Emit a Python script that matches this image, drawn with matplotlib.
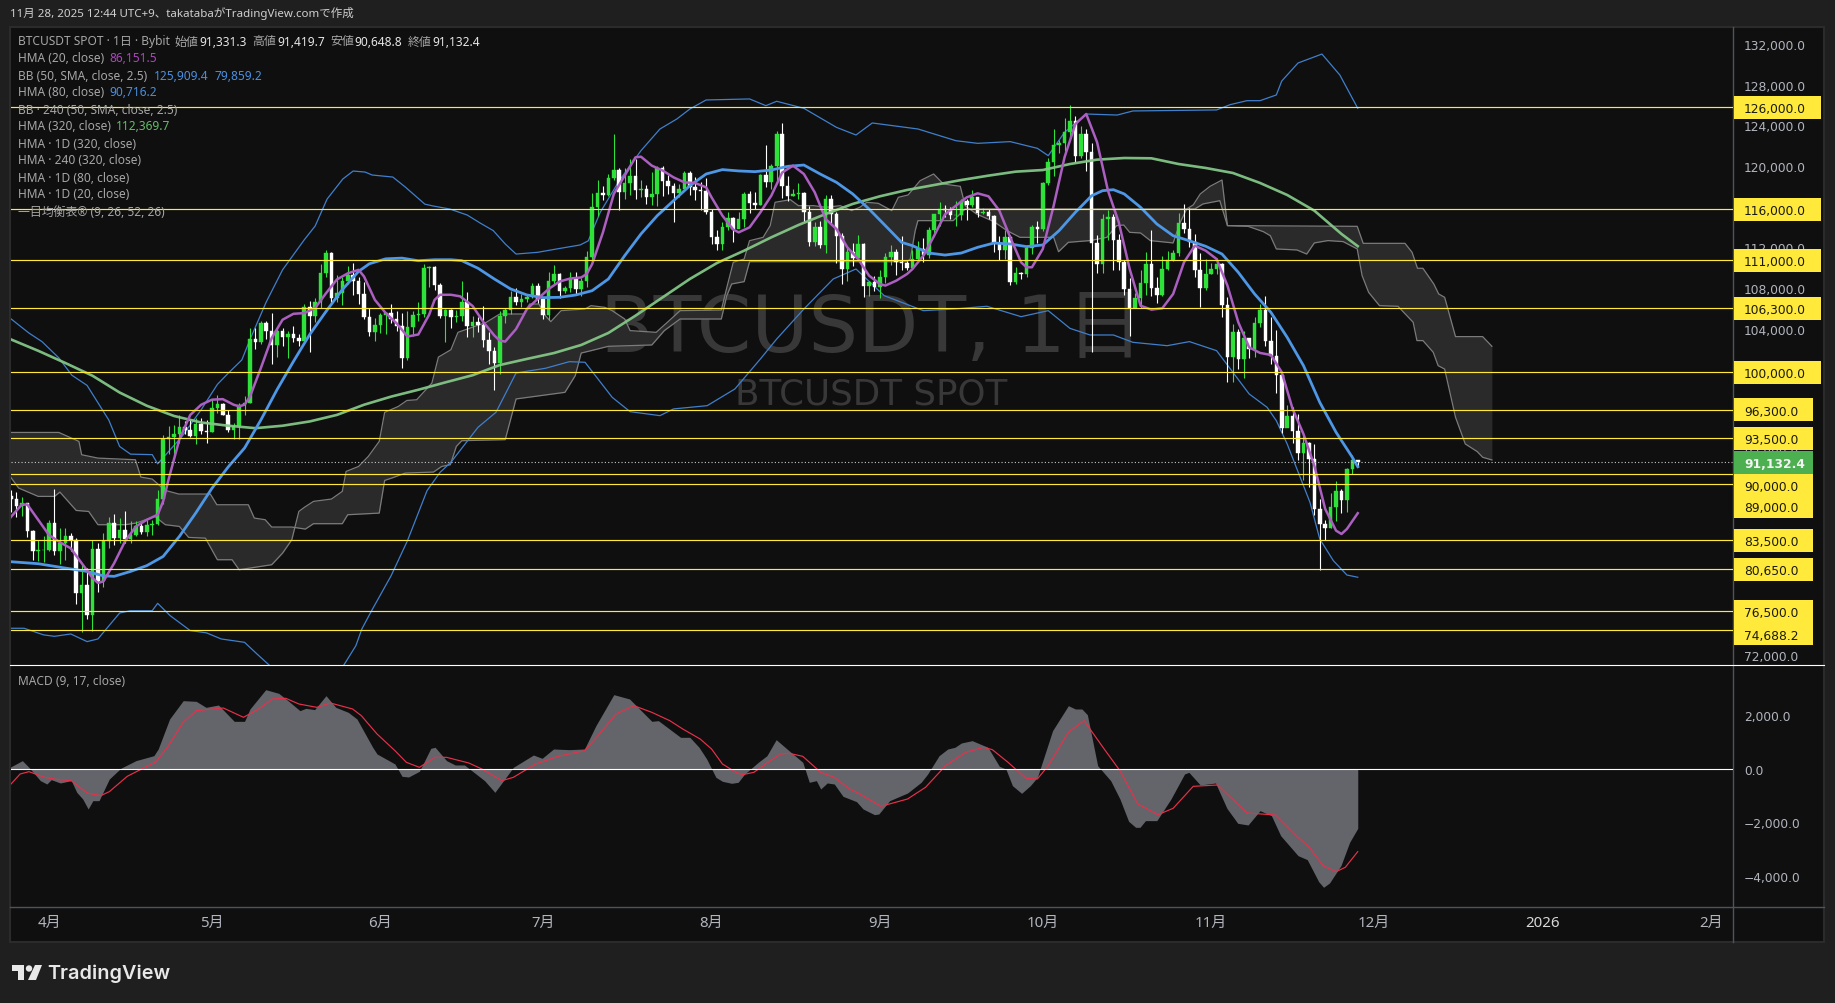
import numpy as np
import matplotlib
matplotlib.use("Agg")
import matplotlib.pyplot as plt
from matplotlib.patches import Circle, Polygon, Rectangle
from matplotlib.ticker import FixedLocator, FuncFormatter
from matplotlib.transforms import ScaledTranslation

plt.rcParams["font.family"] = ["Noto Sans", "Noto Sans CJK JP", "DejaVu Sans"]

# daily candles, 25 Mar - 28 Nov 2025
first_open = 87800
closes = [
    87500, 86900, 87200, 84400, 82400, 82500, 82550,
    85150, 82400, 83200, 83900, 83500, 78300, 79100, 76200, 82600, 79500, 83400, 85200, 83700, 84500, 83600, 84000, 84900, 84300, 85000, 85100, 87500, 93400, 93600, 93900, 94600, 94300, 93700, 94900, 94200, 94150,
    96500, 96900, 95800, 94300, 94700, 96800, 97000, 103300, 102950, 104800, 104000, 102700, 104000, 103500, 103700, 103400, 103100, 106400, 105500, 106900, 109700, 111700, 107300, 107800, 109000, 109500, 109000, 107700, 105400, 103900, 104600,
    105600, 105800, 105200, 104500, 101400, 104400, 105600, 105750, 110250, 110300, 108600, 105500, 106100, 105400, 105500, 106860, 104570, 104900, 104600, 103200, 102100, 100900, 105500, 106100, 107400, 106900, 107200, 107400, 108500, 107200,
    105600, 109000, 109600, 108000, 108250, 109200, 108200, 108950, 111300, 116200, 117600, 117400, 119100, 119900, 117700, 118600, 119300, 117900, 118000, 117200, 117500, 120000, 118800, 118300, 117600, 118000, 119600, 118200, 117900, 117800, 115700,
    113300, 112600, 114300, 115100, 114100, 115000, 117500, 116600, 116450, 119400, 118700, 120200, 123400, 118300, 117300, 117500, 117600, 115700, 112800, 114300, 112500, 117000, 115500, 113400, 110100, 111800, 111200, 112600, 108500, 108900, 108350,
    109300, 111300, 111800, 110800, 110700, 110250, 111100, 112100, 111500, 114000, 115500, 116000, 115950, 115400, 115400, 116800, 116400, 117200, 115600, 115700, 115300, 112700, 112000, 113300, 108900, 109700, 109650, 112200, 114300, 114100,
    118600, 120600, 122300, 122550, 123550, 124700, 121260, 123400, 121600, 112700, 110600, 115000, 115200, 113000, 110800, 108200, 106300, 107300, 108800, 110600, 108300, 107600, 110100, 111000, 111700, 114650, 114100, 112800, 110000, 108300, 109600,
    110100, 110600, 106600, 101500, 103900, 101300, 103400, 102300, 104800, 106100, 103100, 101600, 99700, 94500, 95650, 94250, 92100, 93000, 91500, 86600, 85100, 84700, 86800, 88300, 87400, 90500, 91331.3, 91132.4,
]
highs = [
    88450, 88200, 87700, 87200, 84500, 83500, 83900,
    85500, 88500, 84700, 84700, 84200, 83700, 81200, 80800, 83500, 83200, 84200, 85800, 86100, 85700, 86400, 85400, 85400, 85200, 85500, 85500, 88400, 93800, 94700, 94800, 95800, 95200, 95300, 95500, 95500, 95300,
    97400, 97800, 97000, 96300, 95000, 97000, 97700, 104300, 104300, 105000, 105000, 105800, 104300, 104300, 104000, 104500, 103700, 106700, 107000, 107300, 110600, 112000, 111800, 109500, 109300, 110400, 110700, 109300, 108900, 106300, 105300,
    105800, 105900, 106700, 106000, 105800, 106000, 106000, 106900, 110600, 110400, 110400, 108800, 106200, 106200, 106100, 109000, 107900, 105500, 105400, 106500, 103900, 102500, 106000, 106300, 108000, 108300, 107700, 107600, 108800, 108800,
    107300, 109800, 110500, 109700, 108500, 109800, 109800, 109200, 111900, 117600, 118900, 118300, 119500, 123400, 120000, 120000, 120900, 120900, 118900, 118400, 119700, 120200, 120200, 119400, 118600, 118500, 119800, 119800, 119200, 118700, 119100,
    116000, 114000, 114700, 115700, 115200, 115700, 117700, 117800, 117700, 119500, 122300, 120400, 123700, 124500, 119300, 118000, 118600, 117700, 116300, 114700, 114800, 117400, 117400, 115700, 113700, 112300, 112700, 113500, 112700, 109000, 109400,
    110000, 111700, 112500, 112100, 113400, 110900, 112000, 112900, 113200, 114300, 115500, 116700, 116400, 116200, 116800, 117000, 117000, 117900, 117200, 116100, 116000, 115400, 113400, 114000, 113500, 110300, 109800, 112500, 114500, 114800,
    118700, 121000, 123900, 122800, 125000, 126200, 125200, 124200, 123900, 122500, 113500, 115500, 115900, 115500, 113600, 111000, 109200, 107800, 110000, 111800, 114000, 109300, 111400, 111900, 112000, 115600, 116500, 116100, 113600, 111700, 111100,
    110700, 111200, 110700, 107400, 104700, 104200, 104000, 103400, 105400, 106700, 107500, 105400, 104100, 99800, 96800, 96600, 95900, 93700, 93100, 92900, 87500, 85500, 88100, 89300, 88500, 90600, 91900, 91419.7,
]
lows = [
    86300, 85800, 85900, 83800, 81600, 81500, 81400,
    82400, 82000, 81200, 81600, 82400, 77200, 74500, 75800, 74600, 78400, 78900, 82700, 83000, 83200, 83200, 83200, 83900, 84100, 83900, 84000, 85000, 87100, 92000, 91800, 93000, 93900, 93600, 92900, 93900, 93000,
    94100, 96000, 95800, 94100, 93400, 93400, 95800, 97000, 102300, 102800, 103300, 100800, 101500, 102600, 101400, 103000, 102600, 103000, 102000, 104900, 106300, 109300, 106800, 106900, 106600, 108700, 107600, 106700, 105200, 103600, 103100,
    103800, 103700, 104800, 104000, 100400, 101200, 103600, 105000, 105400, 108400, 108100, 105300, 103000, 104300, 104900, 105000, 103500, 103500, 103900, 102500, 100800, 98200, 99800, 104800, 105700, 106600, 106400, 106900, 107300, 106800,
    105200, 105100, 108700, 107300, 107800, 107900, 107600, 107500, 108400, 110800, 115300, 116900, 117300, 118900, 115900, 117000, 117400, 117000, 117200, 116500, 116400, 116300, 117300, 117500, 114700, 117200, 117900, 117400, 116900, 115900, 115500,
    112600, 112000, 112000, 114000, 112800, 114200, 114300, 115600, 116000, 116400, 118200, 118000, 118800, 117100, 116800, 117300, 117000, 114700, 112400, 112400, 112200, 111700, 114500, 110700, 108700, 109000, 110400, 110900, 107400, 107500, 108000,
    107300, 108800, 110500, 109500, 110000, 110000, 110200, 110800, 110800, 111200, 113500, 114400, 115200, 115000, 114400, 114900, 114900, 116200, 115200, 115500, 115000, 111800, 111000, 111100, 108600, 108700, 109100, 109300, 111600, 112700,
    113900, 118400, 119300, 121500, 121700, 122900, 120600, 121000, 119800, 102000, 109700, 109700, 113000, 110000, 110000, 107600, 103600, 106300, 106300, 107600, 107500, 106800, 107500, 110000, 110900, 111400, 113700, 112300, 109300, 106400, 108100,
    109600, 109600, 105400, 99000, 99000, 100300, 99400, 101400, 101500, 104400, 102600, 100800, 98000, 94000, 94600, 93000, 91400, 89400, 88700, 86000, 80600, 83500, 84700, 85400, 86200, 86300, 90000, 90648.8,
]

# indicator lines as (bar number, value), bar 0 is 25 Mar
hma20 = [
    (-0.4, 85500), (0, 85800), (2, 87000), (3, 87000), (5, 85500), (7, 84000), (9, 83300), (11, 82700), (13, 81250), (15, 79800), (16, 79300), (17, 79450),
    (19, 81250), (21, 83400), (23, 84850), (25, 85500), (27, 86000), (28, 87300), (29, 89450), (31, 93400), (33, 95800), (35, 96800), (37, 97300), (39, 97350),
    (41, 96800), (42, 96650), (43, 96800), (44, 97600), (46, 100400), (48, 103350), (50, 105150), (52, 105730), (54, 105800), (56, 106300), (58, 107750), (60, 109100),
    (62, 109700), (64, 110050), (65, 109400), (67, 107100), (69, 105800), (71, 104800), (73, 103500), (75, 103700), (77, 105650), (78, 107100), (79, 107600), (81, 107600),
    (82.7, 107450), (85, 106500), (87, 104900), (89, 103600), (90, 103100), (91, 103000), (93, 104240), (95, 106200), (97, 107200), (99, 108170), (101, 108900), (103, 109200),
    (105, 109300), (106, 109640), (107, 110600), (109, 113730), (111, 117500), (113, 119300), (115, 121100), (116, 121160), (118, 120280), (120, 119800), (122, 119130), (124, 118640),
    (126, 118570), (128, 118150), (129, 117170), (131, 115370), (133, 114000), (134, 113730), (136, 114220), (138, 115700), (140, 117330), (142, 119600), (144, 120280), (146, 119460),
    (148, 117660), (150, 115040), (152, 114060), (154, 112260), (156, 111110), (158, 109480), (160, 108660), (161, 108500), (163, 108980), (165, 109640), (166, 110130), (168, 111440),
    (170, 113400), (172, 115500), (174, 116350), (176, 117170), (178, 117560), (180, 117270), (182, 115860), (184, 113240), (186, 110790), (187, 110300), (188, 110300), (190, 112100),
    (192, 116350), (194, 121100), (196, 124370), (198, 125350), (200, 122570), (202, 117820), (204, 114700), (206, 110130), (208, 106530), (210, 106140), (212, 106270), (214, 107680),
    (216, 110790), (218, 112420), (220, 111930), (222, 111110), (224, 108500), (226, 104900), (228, 102440), (230, 101890), (232, 101690), (234, 100000), (236, 96400), (238, 93930),
    (240, 90820), (242, 86570), (244, 84440), (245, 84110), (246, 84600), (248, 86151.5),
]
hma80 = [
    (-0.4, 81400), (5, 81190), (10, 80760), (14, 80430), (17, 80000), (19, 79950), (22, 80430), (25, 81000), (28, 81900), (31, 83870), (34, 86160), (37, 88600),
    (40, 90700), (43, 92550), (46, 95300), (49, 98300), (52, 101050), (55, 103700), (58, 105960), (61, 108100), (64, 109900), (66, 110650), (69, 111130), (72, 111200),
    (75, 110940), (78, 111040), (81, 111040), (83, 110950), (86, 110200), (89, 109150), (92, 108170), (95, 107580), (98, 107320), (101, 107350), (104, 107580), (107, 108000),
    (110, 109150), (113, 111440), (116, 113570), (119, 115370), (122, 116840), (125, 118310), (128, 119460), (131, 119890), (134, 119760), (137, 119690), (140, 119850), (143, 120210),
    (146, 120340), (149, 119460), (152, 118640), (155, 117500), (158, 116020), (161, 114390), (164, 112750), (166, 112420), (169, 111700), (172, 111500), (175, 111700), (178, 112260),
    (181, 112680), (184, 112590), (187, 112330), (190, 112490), (193, 113900), (196, 115700), (199, 117330), (201, 117820), (203, 117920), (205, 117500), (208, 116190), (211, 114550),
    (214, 113400), (217, 112900), (220, 112360), (223, 111600), (226, 109800), (229, 107680), (232, 105880), (235, 103420), (238, 100640), (241, 97040), (244, 94100), (247, 91640), (248, 90716.2),
]
hma320 = [
    (-0.4, 103300), (5, 102100), (10, 100900), (15, 99650), (20, 98000), (25, 96700), (30, 95700), (35, 95060), (40, 94740), (45, 94500), (50, 94740), (55, 95160),
    (60, 95800), (65, 96800), (70, 97600), (75, 98270), (80, 99000), (85, 99700), (90, 100700), (95, 101300), (100, 101880), (105, 102670), (110, 103850), (115, 105550),
    (120, 107350), (125, 109150), (130, 110720), (135, 111930), (140, 113240), (145, 114450), (150, 115530), (155, 116520), (160, 117270), (165, 117890), (170, 118380), (175, 118870),
    (180, 119300), (185, 119690), (190, 119850), (195, 120440), (200, 120870), (205, 121030), (210, 121000), (215, 120440), (220, 120050), (225, 119560), (230, 118580), (235, 117400),
    (240, 115860), (245, 113570), (248, 112369.7),
]
bb_upper = [
    (-0.4, 105400), (3.3, 103840), (5.7, 103000), (8.8, 101400), (11.2, 99700), (14, 98700), (16, 97000), (18, 95300), (20, 92700), (22, 91950), (26, 91900), (27, 91000),
    (29, 92200), (31.5, 93700), (35, 96300), (38, 98800), (40, 99900), (42.5, 101200), (44, 103200), (47, 106900), (50, 110050), (54, 113000), (56, 114350), (58.2, 117000),
    (61.1, 118970), (63, 119750), (65.2, 119650), (66.5, 119360), (70.3, 119160), (72.6, 118180), (76.2, 116500), (77.7, 116320), (80.8, 116020), (84, 115430), (86.4, 114640), (88.8, 113900),
    (91, 112590), (93, 111600), (97, 111770), (100.5, 112100), (104.8, 112490), (106.3, 112900), (108.5, 115700), (112, 118800), (116, 121750), (119.5, 123880), (122.6, 124860), (125, 125840),
    (128, 126730), (136, 126830), (139, 126170), (141, 126600), (146, 125910), (152, 124040), (155.6, 123290), (158.6, 124470), (167, 123880), (174, 122730), (178, 122470), (184, 122640),
    (189, 121980), (191, 121260), (194, 123550), (198, 125350), (203.7, 125250), (206.6, 125650), (222, 125750), (224.5, 126270), (227.6, 126660), (230, 126660), (233, 127220), (234, 128590),
    (237, 130360), (241.4, 131240), (244.7, 129180), (248, 125909.4),
]
bb_lower = [
    (-0.4, 74850), (2.4, 74850), (6, 74200), (8, 74060), (11, 74290), (14, 73540), (16, 73800), (20, 76350), (22, 76580), (26, 76580), (27, 77300), (29.3, 76090),
    (33, 74620), (36, 74400), (38.7, 73800), (43, 73470), (45.3, 72320), (47.5, 71250), (51, 69500), (54, 68500), (57, 69300), (61.3, 71250), (63.5, 73140), (64.6, 74780),
    (66.4, 76580), (70, 80020), (73, 83450), (76.6, 88360), (79, 90160), (81, 91150), (86, 94590), (89.3, 96060), (93, 99920), (98.4, 100380), (102.8, 101030), (105.7, 100970),
    (110.7, 97530), (114, 96120), (119.5, 95730), (122, 96390), (128.2, 96710), (133.3, 98350), (138, 101300), (141, 103260), (146, 106200), (151.4, 109150), (155.6, 110130), (160.8, 107510),
    (168, 106040), (173.8, 106210), (179.7, 106470), (186, 105450), (191, 106040), (195, 104300), (198.7, 103650), (203, 103650), (206.6, 102930), (212.9, 102600), (217, 103000), (222, 102110),
    (225, 99990), (228, 97860), (231.3, 96550), (233, 95240), (235, 92950), (236.8, 90490), (239.2, 87220), (241, 83620), (243.5, 81490), (246, 80080), (248, 79859.2),
]
span_a = [
    (-0.4, 89930), (1.4, 88620), (5, 87800), (8, 87800), (9, 88220), (12, 86420), (14.3, 86320), (16, 85020), (21, 85020), (23, 85180), (26.5, 85830), (28.4, 85020),
    (31, 84850), (32.7, 83770), (35.8, 83700), (38, 81580), (40.7, 81580), (42, 80600), (48, 81090), (50, 82230), (51.7, 83540), (53, 86320), (54, 86720), (55.7, 87310),
    (59, 87540), (61, 88290), (61.7, 90250), (64, 90740), (65.8, 91730), (67.8, 93200), (68.8, 96050), (71.3, 96630), (72.9, 97220), (74.7, 97290), (77.5, 98930), (78.7, 101480),
    (81, 102200), (82.3, 103910), (87.5, 104890), (90, 105710), (94.4, 105710), (95.5, 106690), (97.2, 106690), (98.4, 105550), (99.4, 104960), (101.3, 106040), (105.7, 106200), (106.8, 106530),
    (109.3, 106370), (110.7, 106040), (113, 105220), (114, 104080), (118.8, 103910), (121, 104960), (123.2, 106040), (130.8, 106100), (131.9, 108500), (133, 110790), (135, 111110), (136, 112910),
    (138.5, 113240), (139.8, 114390), (140.7, 116680), (143.5, 116940), (145, 116350), (147.8, 116350), (150, 116190), (152.7, 116350), (154.8, 115860), (156.3, 116190), (157.6, 116680), (159.7, 116580),
    (162.2, 115860), (163.4, 117170), (165.2, 117400), (167.4, 118800), (169.9, 119460), (171.7, 118480), (174.8, 118250), (175.7, 116350), (177.8, 115530), (181, 114780), (183.4, 113900), (185.8, 113240),
    (192, 113240), (192.9, 111830), (194.7, 112750), (198.7, 112920), (201.8, 113240), (203.6, 114390), (204.9, 114450), (206, 113730), (208, 113670), (209.8, 112920), (214, 112690), (215.3, 114720),
    (216.5, 116030), (217.7, 116420), (219, 117500), (220.8, 118250), (223, 118870), (224, 114390), (227.8, 114320), (230.6, 113800), (231.9, 113400), (233, 112100), (236.8, 112000), (238.6, 111600),
    (240, 112690), (242.5, 112920), (245.3, 112820), (247.9, 112100), (248.8, 109480), (250, 107840), (252, 106530), (255.4, 106470), (258.2, 104900), (258.9, 103100), (260, 103100), (261.9, 101950),
    (262.8, 100640), (264, 100300), (266, 95570), (267.8, 92950), (270, 92200), (271, 91640), (272.7, 91380),
]
span_b = [
    (-0.4, 94080), (8.8, 94080), (12.5, 93200), (13, 91890), (16, 91560), (22.9, 91400), (23.9, 89700), (26, 89500), (28.4, 88390), (30.9, 88030), (36.7, 88030), (37.9, 86980),
    (43.7, 86980), (44.8, 85670), (46.8, 85510), (48, 84790), (51.7, 84790), (54.2, 84590), (55.7, 85120), (61, 85120), (62, 86000), (67.8, 86160), (68.8, 89370), (70.1, 89600),
    (72.6, 90090), (77.8, 90190), (79.3, 90740), (80.9, 90910), (82, 92710), (83, 93270), (91, 93370), (93, 97370), (102, 98020), (103.9, 99660), (105, 101880), (106.8, 102110),
    (110, 102540), (118, 102670), (120.3, 104080), (123.2, 105220), (130.8, 105220), (131.8, 107500), (132.7, 108660), (135, 108890), (136, 110850), (165, 110850), (165.6, 111110), (166.5, 113900),
    (167, 114880), (173.5, 114880), (175.7, 116030), (218, 116030), (219.5, 116520), (222.6, 116840), (224, 114390), (247.9, 114320), (249, 112650), (256.7, 112650), (258, 111770), (259, 110200),
    (260, 110200), (262, 108660), (262.9, 107680), (264, 107350), (266, 103490), (271, 103490), (272.7, 102540),
]
macd = [
    (-0.4, 40), (2.08, 312), (3.3, 62), (5.4, -436), (6.6, -561), (7.4, -399), (9.07, -523), (11.1, -436), (12.1, -872), (13.2, -1121), (14.2, -1495), (15.07, -1184),
    (16.2, -1184), (18.1, -374), (20.2, 25), (23, 312), (26.3, 498), (27.1, 748), (29.2, 1869), (31.7, 2554), (34.1, 2529), (35.9, 2305), (38.2, 2392), (41.1, 1782),
    (43, 1782), (44, 2243), (46.9, 2965), (49.3, 2828), (51, 2554), (53.2, 2180), (54.3, 2268), (55.9, 2218), (58, 2741), (59.8, 2305), (62.1, 2118), (63.7, 1869),
    (66.6, 810), (67.4, 561), (70.7, 187), (72, -274), (73.2, -299), (75.2, -87), (77.3, 773), (78.1, 810), (80.2, 312), (81.8, 150), (83.5, 150), (87.2, -436),
    (89.1, -872), (92.5, 62), (96.2, 523), (97.8, 399), (99.9, 748), (102.8, 723), (105.6, 748), (107.7, 1620), (111, 2779), (113.9, 2617), (118, 1782), (119.2, 1807),
    (123.3, 1184), (125, 1184), (126.7, 810), (128.1, 374), (129.8, -312), (131, -461), (132.7, -536), (133.9, -498), (135.1, -187), (137.6, 249), (139.2, 498), (140.9, 1096),
    (142.9, 748), (145.8, 249), (147, -498), (148.3, -436), (149.1, -748), (150.3, -523), (151.6, -561), (153.2, -1022), (155.7, -1221), (156.9, -1495), (159, -1707), (159.8, -1682),
    (161.8, -1184), (165.1, -897), (167.6, -498), (168.8, -187), (170.9, 498), (172.5, 748), (173.8, 810), (175, 972), (177, 1059), (179.9, 810), (182, 100), (183.2, 0),
    (184.4, -623), (186.1, -910), (187.7, -623), (189, -312), (191.8, 1433), (194.7, 2367), (196, 2243), (197.2, 2243), (198.2, 2031), (200.1, 125), (202.5, -436), (204.2, -1121),
    (205.8, -1956), (207.1, -2181), (207.9, -2181), (208.9, -1931), (211, -1931), (213.6, -1121), (216.1, -187), (216.9, -125), (219, -598), (221.8, -523), (223.9, -1470), (225.9, -2031),
    (227.8, -2093), (230, -1558), (232.1, -1744), (233.8, -2492), (237, -3240), (238.7, -3389), (240.8, -4211), (241.7, -4423), (242.8, -4261), (244.9, -3613), (246.5, -2741), (248, -2218),
]
macd_signal = [
    (-0.4, -650), (1.67, -187), (3.3, -100), (6.2, -312), (8.66, -399), (11.1, -436), (14, -897), (16.5, -997), (18.1, -847), (21.4, -274), (26.7, 274), (28.8, 810),
    (31.7, 1745), (34.1, 2180), (39.1, 2280), (42.8, 1932), (45.6, 2243), (48.1, 2617), (50.6, 2642), (53, 2430), (56.3, 2305), (58.8, 2467), (62.9, 2243), (64.5, 1994),
    (67.4, 1308), (70.7, 685), (72.8, 249), (75.2, 62), (78.1, 436), (80.2, 436), (84.3, 224), (86.7, 0), (90.4, -436), (92.5, -312), (96.6, 187), (100.7, 473),
    (105.6, 685), (108.1, 1246), (111.4, 2056), (114.7, 2367), (118, 2118), (121.3, 1807), (123.7, 1495), (126.9, 1121), (129, 748), (131, 187), (133.5, -125), (134.7, -212),
    (136.8, -125), (139.2, 224), (141.7, 561), (143.3, 586), (145.8, 473), (149.1, -125), (151.6, -312), (154.4, -748), (156.1, -910), (160.2, -1395), (165.1, -1121), (168.4, -685),
    (172.1, 125), (175.8, 623), (179.1, 810), (180.7, 723), (183.6, 249), (186.9, -349), (189, -374), (191, 125), (194.7, 1371), (197.6, 1807), (201.3, 748), (204.2, -62),
    (207.5, -1308), (211.2, -1707), (214, -1470), (217.7, -648), (222.2, -598), (227.6, -1645), (232.9, -1720), (237, -2554), (239.1, -2928), (241.6, -3613), (244, -3838), (245.7, -3676), (248, -3090),
]

levels = [126000, 116000, 111000, 106300, 100000, 96300, 93500, 90000, 89000, 83500, 80650, 76500, 74688.2]
last_price = 91132.4
month_ticks = [7, 37, 68, 98, 129, 160, 190, 221, 251, 282, 313]
month_labels = ["4月", "5月", "6月", "7月", "8月", "9月", "10月", "11月", "12月", "2026", "2月"]

BG = "#1f1f1f"
PANEL = "#0f0f0f"
GREEN = "#2fe23a"
YELLOW = "#ffe93b"
GREY_TEXT = "#b2b5be"
LEGEND_TEXT = "#a6a6a6"

W, H = 1835, 1004
fig = plt.figure(figsize=(W / 100, H / 100), dpi=100, facecolor=BG)


def pane(left, top, right, bottom, zorder):
    return fig.add_axes([left / W, 1 - bottom / H, (right - left) / W, (bottom - top) / H], zorder=zorder)


# whole figure in pixels, for the panel, watermark and logo
bg = pane(0, 0, W, H, 0)
bg.set_xlim(0, W)
bg.set_ylim(H, 0)
bg.axis("off")
bg.add_patch(Rectangle((10, 28), 1814, 915, fc=PANEL, ec="#2b2b2b", lw=1.5))
bg.text(600, 352, "BTCUSDT, 1日", fontsize=56.3, color="#383838", family=["DejaVu Sans", "Noto Sans CJK JP"], va="baseline")
bg.text(735, 405, "BTCUSDT SPOT", fontsize=25.7, color="#383838", family=["DejaVu Sans"], va="baseline")
bg.plot([1733, 1733], [28, 943], color="#50535e", lw=1)
bg.plot([10, 1824], [908, 908], color="#50535e", lw=1)

ax = pane(10.5, 28, 1733, 666, 2)
ax2 = pane(10.5, 667, 1733, 908, 2)
for a in (ax, ax2):
    a.patch.set_alpha(0)
    a.set_xlim(-0.1, 317.1)
    for s in a.spines.values():
        s.set_visible(False)
    a.yaxis.tick_right()
    a.tick_params(axis="y", length=0, pad=8, labelcolor=GREY_TEXT, labelsize=8.8)
ax.set_ylim(71243, 133895)
ax2.set_ylim(-5159, 3850)
ax.set_xticks([])
ax.yaxis.set_major_locator(FixedLocator(np.arange(72000, 132001, 4000)))
ax.yaxis.set_major_formatter(FuncFormatter(lambda v, p: f"{v:,.1f}"))
ax2.yaxis.set_major_locator(FixedLocator([-4000, -2000, 0, 2000]))
ax2.yaxis.set_major_formatter(FuncFormatter(lambda v, p: f"{v:,.1f}".replace("-", "\u2212")))
for a in (ax, ax2):
    for t in a.get_yticklabels():
        t.set_family("DejaVu Sans")
# the price scale labels sit a little above their tick
lift = ScaledTranslation(0, 2.5 / 100, fig.dpi_scale_trans)
for t in ax.get_yticklabels():
    t.set_transform(t.get_transform() + lift)

# ichimoku cloud
ax_a, ay_a = zip(*span_a)
bx_b, by_b = zip(*span_b)
grid = np.linspace(-0.4, 272.7, 2000)
ax.fill_between(grid, np.interp(grid, ax_a, ay_a), np.interp(grid, bx_b, by_b), color="#2a2a2a", lw=0, zorder=1)
ax.plot(ax_a, ay_a, color="#7b7b7b", lw=0.9, zorder=2)
ax.plot(bx_b, by_b, color="#7b7b7b", lw=0.9, zorder=2)

# bollinger bands
for band in (bb_upper, bb_lower):
    x, y = zip(*band)
    ax.plot(x, y, color="#3f7fcc", lw=0.9, zorder=3)

# candles
bars = np.arange(len(closes))
closes = np.array(closes)
highs = np.array(highs)
lows = np.array(lows)
opens = np.concatenate([[first_open], closes[:-1]])
colors = np.where(closes >= opens, GREEN, "#ffffff")
ax.vlines(bars, lows, highs, colors=colors, lw=0.8, zorder=4)
ax.bar(bars, np.abs(closes - opens), bottom=np.minimum(opens, closes), width=0.66, color=colors, edgecolor=colors, lw=0.3, zorder=4)

# moving averages
x, y = zip(*hma320)
ax.plot(x, y, color="#83c586", lw=1.9, alpha=0.95, zorder=5)
x, y = zip(*hma80)
ax.plot(x, y, color="#4d97e6", lw=2.0, zorder=5)
x, y = zip(*hma20)
ax.plot(x, y, color="#ab5fc0", lw=1.8, zorder=6)

# horizontal levels and their price tags
for lvl in levels:
    ax.axhline(lvl, color=YELLOW, lw=0.85, zorder=7)
ax.axhline(last_price, color="#c8c8c8", lw=0.8, ls=(0, (1, 2)), zorder=7)

px_w = 1722.5
px_price = 98.2
tag_h = 23 * px_price
# tags that would collide are pushed down the scale, in pixels
tag_shift = {90000: 11, 89000: 22, 74688.2: 4}
for lvl in levels:
    w = 87 if lvl >= 100000 else 79
    y_tag = lvl - tag_shift.get(lvl, 0) * px_price
    ax.add_patch(Rectangle((1 + 1 / px_w, y_tag - tag_h / 2), w / px_w, tag_h, transform=ax.get_yaxis_transform(),
                           fc=YELLOW, ec="none", clip_on=False, zorder=20))
    ax.text(1 + 11 / px_w, y_tag, f"{lvl:,.1f}", transform=ax.get_yaxis_transform(), color="#1a1a10", fontsize=8.8,
            family="DejaVu Sans", va="center_baseline", ha="left", clip_on=False, zorder=21)
ax.add_patch(Rectangle((1 + 1 / px_w, last_price - tag_h / 2), 79 / px_w, tag_h, transform=ax.get_yaxis_transform(),
                       fc="#4caf50", ec="none", clip_on=False, zorder=22))
ax.text(1 + 11 / px_w, last_price, f"{last_price:,.1f}", transform=ax.get_yaxis_transform(), color="#f4f4f4", fontsize=8.8,
        fontweight="bold", family="DejaVu Sans", va="center_baseline", ha="left", clip_on=False, zorder=23)

# macd pane
x, y = zip(*macd)
ax2.fill_between(x, y, 0, color="#63656b", lw=0, zorder=2)
x, y = zip(*macd_signal)
ax2.plot(x, y, color="#e8304a", lw=0.85, zorder=3)
ax2.axhline(0, color="#ffffff", lw=0.8, zorder=4)
ax2.set_xticks(month_ticks)
ax2.set_xticklabels(month_labels)
ax2.tick_params(axis="x", length=0, pad=6, labelcolor=GREY_TEXT, labelsize=10.8)
for t in ax2.get_xticklabels():
    if t.get_text() == "2026":
        t.set_fontweight("bold")
        t.set_color("#d8d8d8")

# texts on top of everything
top = pane(0, 0, W, H, 5)
top.set_xlim(0, W)
top.set_ylim(H, 0)
top.axis("off")
top.patch.set_alpha(0)
top.plot([10, 1824], [666, 666], color="#ffffff", lw=0.8)


def label(x, y, s, color=LEGEND_TEXT, size=8.6, weight="normal"):
    top.text(x, y, s, color=color, fontsize=size, fontweight=weight, va="center", ha="left")


label(10, 14, "11月 28, 2025 12:44 UTC+9、takatabaがTradingView.comで作成", color="#cfcfcf", size=8.3)
label(18, 42, "BTCUSDT SPOT · 1日 · Bybit")
for x0, name, x1, value in [(174, "始値", 199, "91,331.3"), (252, "高値", 277, "91,419.7"),
                            (330, "安値", 354, "90,648.8"), (408, "終値", 432, "91,132.4")]:
    label(x0, 42, name)
    label(x1, 42, value, color="#e6e6e6", weight="bold")
label(18, 59, "HMA (20, close)")
label(109, 59, "86,151.5", color="#ab47bc")
label(18, 76, "BB (50, SMA, close, 2.5)")
label(154, 76, "125,909.4", color="#4a8fe0")
label(214, 76, "79,859.2", color="#4a8fe0")
label(18, 93, "HMA (80, close)")
label(109, 93, "90,716.2", color="#4a8fe0")
label(18, 110, "BB · 240 (50, SMA, close, 2.5)")
label(18, 127, "HMA (320, close)")
label(116, 127, "112,369.7", color="#66bb6a")
label(18, 144, "HMA · 1D (320, close)")
label(18, 161, "HMA · 240 (320, close)")
label(18, 178, "HMA · 1D (80, close)")
label(18, 195, "HMA · 1D (20, close)")
label(18, 212, "一目均衡表® (9, 26, 52, 26)")
label(18, 682, "MACD (9, 17, close)")

# tradingview logo
logo = "#e8e8e8"
top.add_patch(Polygon([(12, 966), (24, 966), (24, 981), (18, 981), (18, 972), (12, 972)], fc=logo, ec="none"))
top.add_patch(Circle((29, 969.5), 3.2, fc=logo, ec="none"))
top.add_patch(Polygon([(35, 966), (42, 966), (36, 981), (28, 981)], fc=logo, ec="none"))
top.text(47, 974, "TradingView", color=logo, fontsize=14.3, fontweight="semibold", va="center", ha="left",
         family=["Inter", "Noto Sans"])

fig.savefig("out.png", dpi=100, facecolor=BG)
